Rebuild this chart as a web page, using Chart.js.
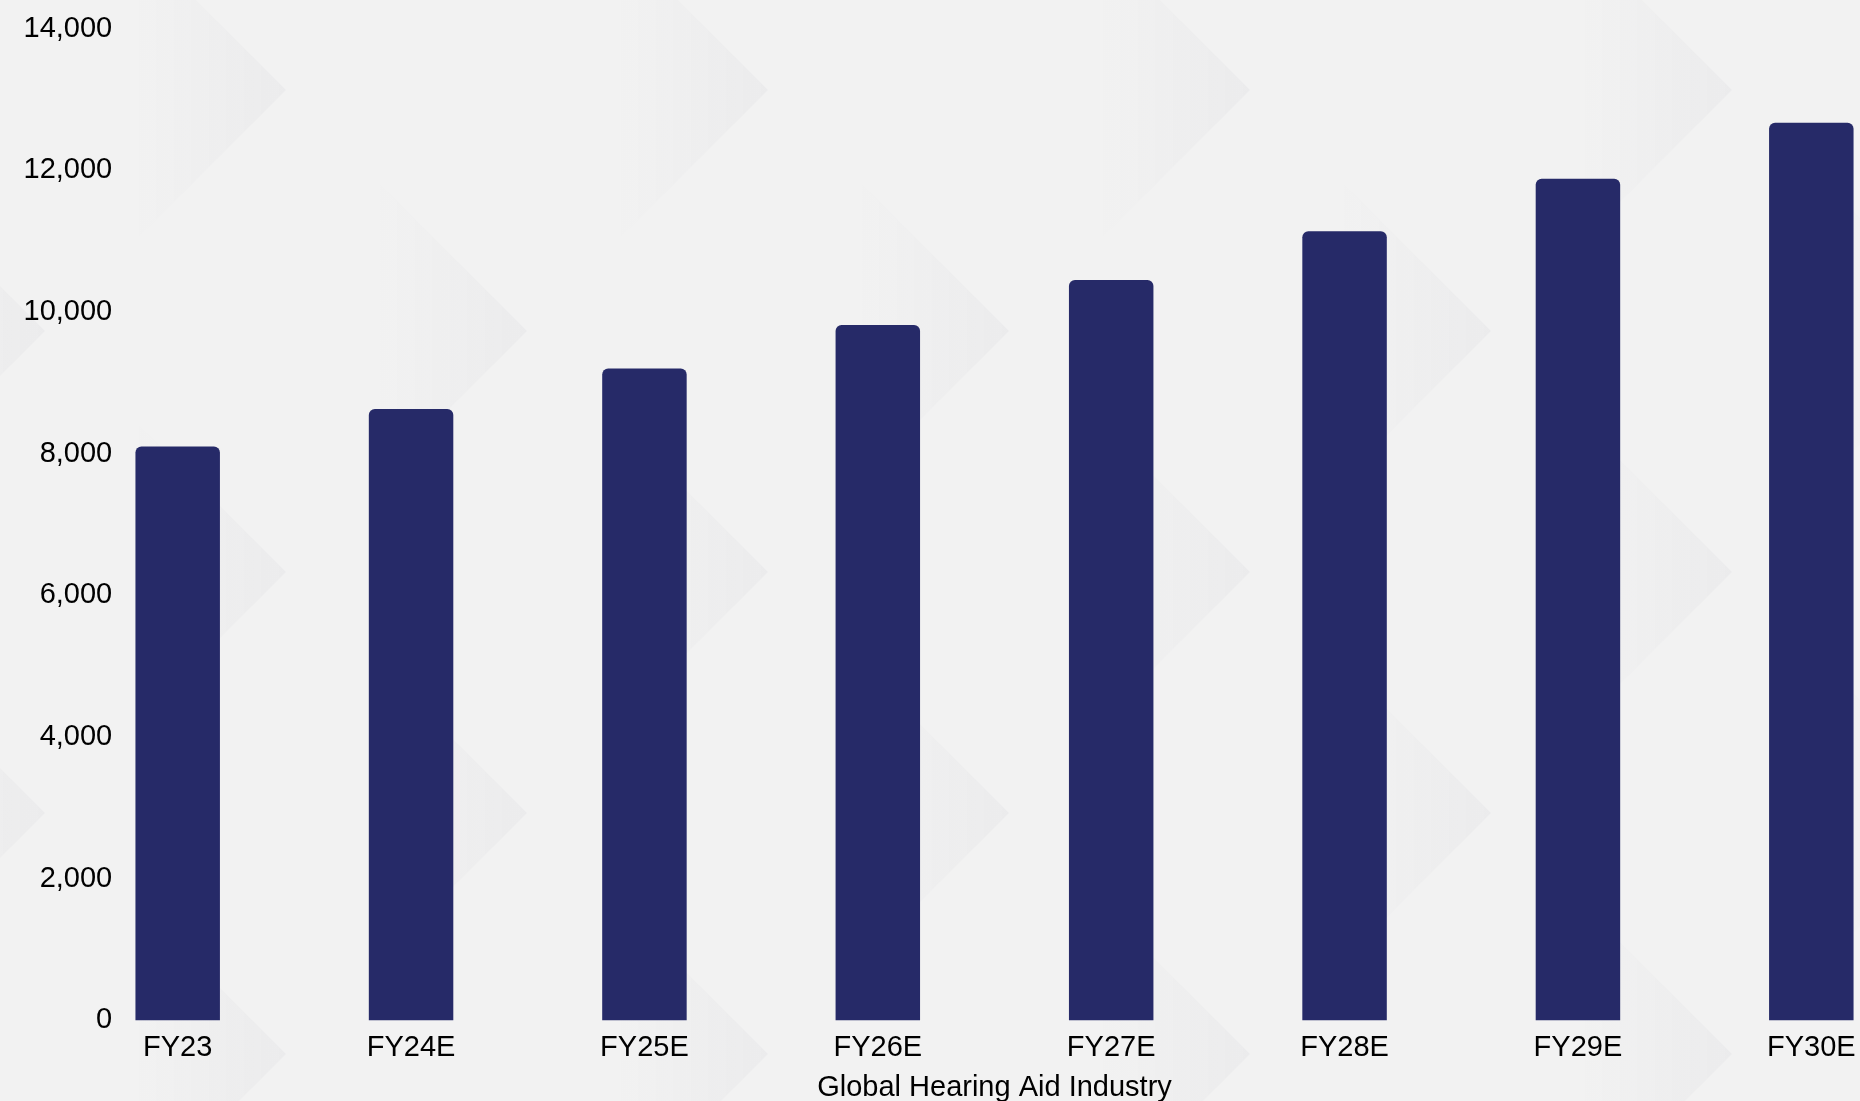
<!DOCTYPE html>
<html>
<head>
<meta charset="utf-8">
<script src="https://cdn.jsdelivr.net/npm/chart.js@4.4.1/dist/chart.umd.min.js"></script>
<style>
  html, body {
    margin: 0;
    padding: 0;
    width: 1860px;
    height: 1101px;
    overflow: hidden;
    background-color: #f2f2f2;
  }
  #bg {
    position: absolute;
    left: 0; top: 0;
    width: 1860px; height: 1101px;
  }
  #wrap {
    position: absolute;
    left: 0; top: 0;
    width: 1928px;
    height: 1101px;
  }
</style>
</head>
<body>
<div id="bg"></div>
<div id="wrap"><canvas id="marketChart"></canvas></div>
<script>
  // chart data
  const years = ['FY23', 'FY24E', 'FY25E', 'FY26E', 'FY27E', 'FY28E', 'FY29E', 'FY30E'];
  const industrySize = [8100, 8630, 9200, 9815, 10450, 11140, 11880, 12670];
  const yTicks = [0, 2000, 4000, 6000, 8000, 10000, 12000, 14000];
  const axisTitle = 'Global Hearing Aid Industry';

  // faint arrow pattern behind the chart
  const arrow = (x, y) =>
    `<polygon points="${x - 240},${y - 240} ${x},${y} ${x - 240},${y + 240}" fill="url(#g)"/>`;
  const svg = `<svg xmlns="http://www.w3.org/2000/svg" width="482" height="482">` +
    `<defs><linearGradient id="g" x1="0" x2="1" y1="0" y2="0">` +
    `<stop offset="0.35" stop-color="rgb(70,70,100)" stop-opacity="0"/>` +
    `<stop offset="1" stop-color="rgb(70,70,100)" stop-opacity="0.035"/></linearGradient></defs>` +
    arrow(241, 120) + arrow(241, 602) + arrow(241, -362) + arrow(482, 361) + arrow(482, -121) + arrow(482, 843) +
    `</svg>`;
  const bg = document.getElementById('bg');
  bg.style.backgroundImage = `url("data:image/svg+xml;utf8,${encodeURIComponent(svg)}")`;
  bg.style.backgroundPosition = '45px -30px';

  const tickFont = { family: '"Liberation Sans", Arial, sans-serif', size: 29 };

  const ctx = document.getElementById('marketChart').getContext('2d');
  new Chart(ctx, {
    type: 'bar',
    data: {
      labels: years,
      datasets: [{
        data: industrySize,
        backgroundColor: '#262a68',
        borderRadius: { topLeft: 6, topRight: 6 },
        borderSkipped: 'start',
        barPercentage: 0.362,
        categoryPercentage: 1
      }]
    },
    options: {
      responsive: true,
      maintainAspectRatio: false,
      animation: false,
      layout: { padding: { left: 0, right: 0, top: 28.5, bottom: 0 } },
      plugins: {
        legend: { display: false },
        tooltip: { enabled: false }
      },
      scales: {
        x: {
          grid: { display: false, drawTicks: false },
          border: { display: false },
          ticks: { color: '#000', font: tickFont, padding: 10 },
          title: {
            display: true,
            text: axisTitle,
            color: '#000',
            font: tickFont,
            padding: { top: -5, bottom: -4 }
          }
        },
        y: {
          min: 0,
          max: 14000,
          afterBuildTicks: (scale) => {
            scale.ticks = yTicks.map(v => ({ value: v }));
          },
          afterFit: (scale) => {
            scale.width = 61;
          },
          grid: { display: false, drawTicks: false },
          border: { display: false },
          ticks: {
            color: '#000',
            font: tickFont,
            mirror: true,
            crossAlign: 'far',
            padding: -37.5,
            callback: (v) => v.toLocaleString('en-US')
          }
        }
      }
    }
  });
</script>
</body>
</html>
